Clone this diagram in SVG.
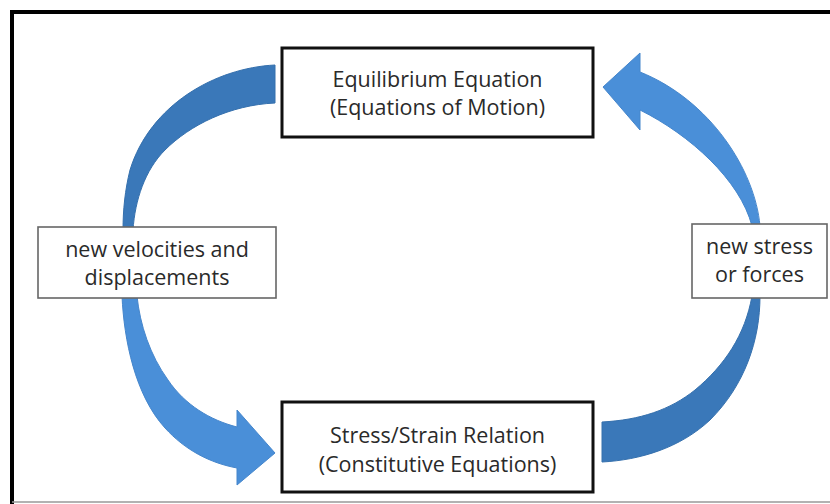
<svg xmlns="http://www.w3.org/2000/svg" width="830" height="504" viewBox="0 0 830 504">
<style>
.main{fill:#fff;stroke:#111;stroke-width:3}
.side{fill:#fff;stroke:#666;stroke-width:1.6}
.t{font-family:"Open Sans","Liberation Sans",sans-serif;font-size:21.5px;fill:#2a2a2a;text-anchor:middle}
.dark{fill:#3a78b9;stroke:#3570ad;stroke-width:1}
.light{fill:#4a8fd8;stroke:#4586cc;stroke-width:1}
</style>
<rect width="830" height="504" fill="#fff"/>
<g id="frame">
<line x1="10" y1="12" x2="830" y2="12" stroke="#000" stroke-width="4"/>
<line x1="12" y1="10" x2="12" y2="504" stroke="#000" stroke-width="4"/>
<line x1="12" y1="502" x2="830" y2="502" stroke="#999" stroke-width="1.5"/>
</g>
<g id="connectors">
<path class="dark" d="M275 65 C 215 68, 150 105, 130 170 C 125 190, 123 210, 123 230 L 133 230 C 135 200, 145 170, 165 150 C 190 125, 230 105, 275 103 Z"/>
<path class="light" d="M122 296 C 124 340, 135 395, 165 428 C 185 450, 210 463, 237 468 L 237 485 L 275 453 L 237 410 L 237 427 C 210 420, 185 405, 168 380 C 150 355, 140 325, 137 296 Z"/>
<path class="light" d="M760 226 C 755 170, 710 100, 640 72 L 640 53 L 603 87 L 640 130 L 640 110 C 690 135, 740 180, 752 226 Z"/>
<path class="dark" d="M760 296 C 760 340, 745 385, 710 420 C 680 448, 640 460, 602 462 L 602 422 C 640 420, 670 410, 695 390 C 725 365, 745 335, 752 296 Z"/>
</g>
<g id="equilibrium">
<rect class="main" x="282" y="48" width="311" height="89"/>
<text class="t" x="437.5" y="87">Equilibrium Equation</text>
<text class="t" x="437.5" y="115">(Equations of Motion)</text>
</g>
<g id="stress-strain">
<rect class="main" x="282" y="402" width="311" height="90"/>
<text class="t" x="437.5" y="443">Stress/Strain Relation</text>
<text class="t" x="437.5" y="472">(Constitutive Equations)</text>
</g>
<g id="velocities">
<rect class="side" x="38" y="227" width="238" height="71"/>
<text class="t" x="157" y="257">new velocities and</text>
<text class="t" x="157" y="285">displacements</text>
</g>
<g id="stress">
<rect class="side" x="692" y="224" width="135" height="74"/>
<text class="t" x="759.5" y="254">new stress</text>
<text class="t" x="759.5" y="282">or forces</text>
</g>
</svg>
